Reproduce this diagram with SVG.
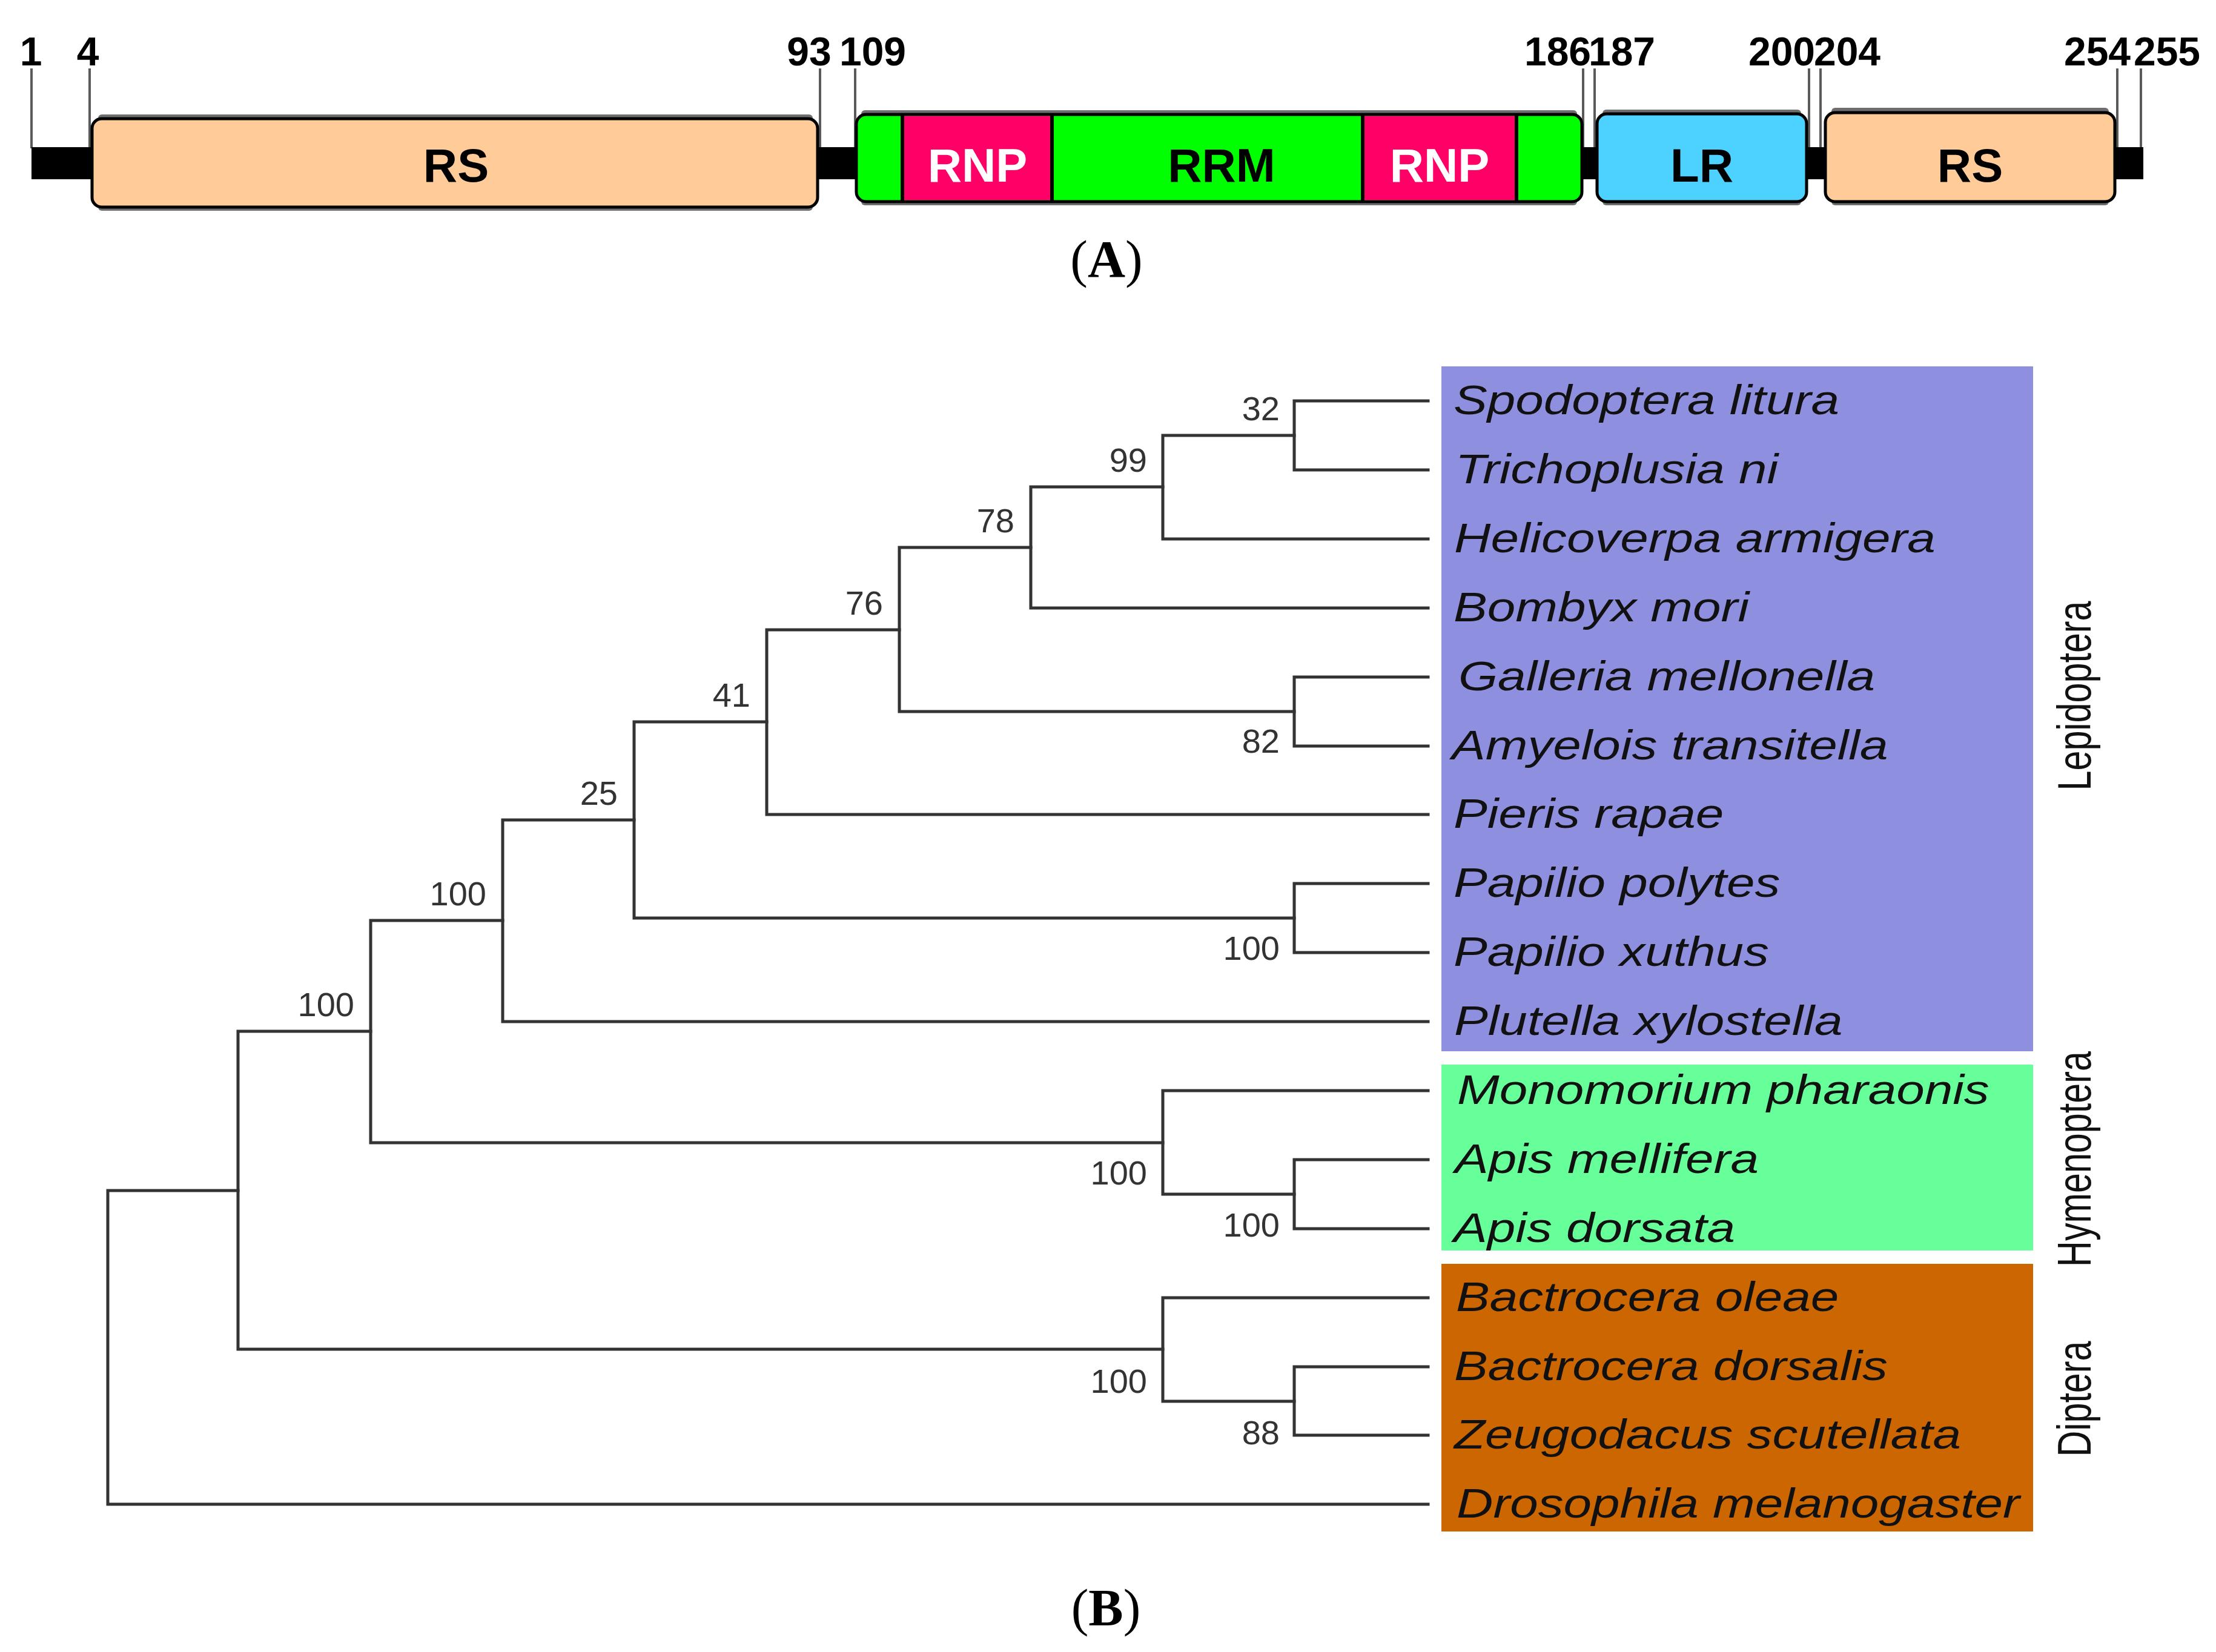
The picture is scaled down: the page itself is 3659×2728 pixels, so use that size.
<svg xmlns="http://www.w3.org/2000/svg" width="3659" height="2728" viewBox="0 0 3659 2728">
<style>
.tick{stroke:#5a5a5a;stroke-width:4;fill:none}
.shadow{fill:#6e6e6e}
.dom{stroke:#000;stroke-width:5}
.sep{stroke:#000;stroke-width:6}
.num{font-family:"Liberation Sans",Arial,sans-serif;font-weight:bold;font-size:66px;fill:#000;text-anchor:middle}
.dl{font-family:"Liberation Sans",Arial,sans-serif;font-weight:bold;font-size:78px;text-anchor:middle}
.panel{font-family:"Liberation Serif","Times New Roman",serif;font-size:86px;fill:#000;text-anchor:middle}
.br{stroke:#333;stroke-width:5;fill:none;stroke-linecap:square;stroke-linejoin:miter}
.bs{font-family:"Liberation Sans",Arial,sans-serif;font-size:56px;fill:#333;text-anchor:end}
.sp{font-family:"Liberation Sans",Arial,sans-serif;font-style:italic;font-size:68px;fill:#111}
.ord{font-family:"Liberation Sans",Arial,sans-serif;font-size:77px;fill:#111;text-anchor:middle}
</style>
<rect width="3659" height="2728" fill="#fff"/>

<!-- Panel A: domain structure -->
<g id="panelA">
  <g id="ticks">
    <line class="tick" x1="52" y1="113" x2="52" y2="245"/>
    <line class="tick" x1="148" y1="113" x2="148" y2="245"/>
    <line class="tick" x1="1354" y1="113" x2="1354" y2="245"/>
    <line class="tick" x1="1412" y1="113" x2="1412" y2="245"/>
    <line class="tick" x1="2614" y1="113" x2="2614" y2="245"/>
    <line class="tick" x1="2633" y1="113" x2="2633" y2="245"/>
    <line class="tick" x1="2987" y1="113" x2="2987" y2="245"/>
    <line class="tick" x1="3006" y1="113" x2="3006" y2="245"/>
    <line class="tick" x1="3496" y1="113" x2="3496" y2="245"/>
    <line class="tick" x1="3535" y1="113" x2="3535" y2="245"/>
  </g>
  <g id="tick-labels">
    <text class="num" x="51" y="108">1</text>
    <text class="num" x="145" y="108">4</text>
    <text class="num" x="1336" y="108">93</text>
    <text class="num" x="1441" y="108">109</text>
    <text class="num" x="2572" y="108">186</text>
    <text class="num" x="2678" y="108">187</text>
    <text class="num" x="2942" y="108">200</text>
    <text class="num" x="3050" y="108">204</text>
    <text class="num" x="3463" y="108">254</text>
    <text class="num" x="3578" y="108">255</text>
  </g>
  <rect id="backbone" x="52" y="243" width="3487" height="53" fill="#000"/>

  <g id="RS1">
    <rect class="shadow" x="162" y="189" width="1180" height="159" rx="6"/>
    <rect class="dom" x="152" y="196" width="1198" height="146" rx="16" fill="#FFCC99"/>
    <text class="dl" x="753" y="300" fill="#000">RS</text>
  </g>
  <g id="RRM">
    <rect class="shadow" x="1422" y="182" width="1182" height="157" rx="6"/>
    <rect class="dom" x="1414" y="189" width="1198" height="144" rx="16" fill="#00FF00"/>
    <rect x="1490" y="191.5" width="247" height="139" fill="#FF0066"/>
    <line class="sep" x1="1490" y1="189" x2="1490" y2="333"/>
    <line class="sep" x1="1737" y1="189" x2="1737" y2="333"/>
    <rect x="2250" y="191.5" width="254" height="139" fill="#FF0066"/>
    <line class="sep" x1="2250" y1="189" x2="2250" y2="333"/>
    <line class="sep" x1="2504" y1="189" x2="2504" y2="333"/>
    <text class="dl" x="1614" y="300" fill="#fff">RNP</text>
    <text class="dl" x="2017" y="300" fill="#000">RRM</text>
    <text class="dl" x="2377" y="300" fill="#fff">RNP</text>
  </g>
  <g id="LR">
    <rect class="shadow" x="2646" y="181" width="328" height="158" rx="6"/>
    <rect class="dom" x="2637" y="188" width="346" height="145" rx="16" fill="#4DD2FF"/>
    <text class="dl" x="2810" y="300" fill="#000">LR</text>
  </g>
  <g id="RS2">
    <rect class="shadow" x="3024" y="178" width="458" height="161" rx="6"/>
    <rect class="dom" x="3014" y="186" width="478" height="147" rx="16" fill="#FFCC99"/>
    <text class="dl" x="3253" y="300" fill="#000">RS</text>
  </g>
  <text class="panel" x="1827" y="457">(<tspan font-weight="bold">A</tspan>)</text>
</g>

<!-- Panel B: phylogenetic tree -->
<g id="clade-boxes">
  <rect id="box-lepidoptera" x="2380" y="605" width="977" height="1131" fill="#8F8FE0"/>
  <rect id="box-hymenoptera" x="2380" y="1758" width="977" height="307" fill="#66FF99"/>
  <rect id="box-diptera" x="2380" y="2087" width="977" height="442" fill="#CC6600"/>
</g>

<g id="connectors">
  <path class="br" d="M2358,662 H2137 V776 H2358"/>
  <path class="br" d="M2137,719 H1920 V890 H2358"/>
  <path class="br" d="M1920,804 H1702 V1004 H2358"/>
  <path class="br" d="M2358,1118 H2137 V1232 H2358"/>
  <path class="br" d="M1702,904 H1485 V1175 H2137"/>
  <path class="br" d="M1485,1040 H1266 V1345 H2358"/>
  <path class="br" d="M2358,1459 H2137 V1573 H2358"/>
  <path class="br" d="M1266,1192 H1047 V1516 H2137"/>
  <path class="br" d="M1047,1354 H830 V1687 H2358"/>
  <path class="br" d="M2358,1915 H2137 V2029 H2358"/>
  <path class="br" d="M2358,1801 H1920 V1972 H2137"/>
  <path class="br" d="M830,1520 H612 V1887 H1920"/>
  <path class="br" d="M2358,2257 H2137 V2370 H2358"/>
  <path class="br" d="M2358,2143 H1920 V2314 H2137"/>
  <path class="br" d="M612,1703 H393 V2228 H1920"/>
  <path class="br" d="M393,1966 H178 V2484 H2358"/>
</g>

<g id="bootstrap">
  <g id="n32"><text class="bs" x="2113" y="694">32</text></g>
  <g id="n99"><text class="bs" x="1894" y="779">99</text></g>
  <g id="n78"><text class="bs" x="1675" y="879">78</text></g>
  <g id="n76"><text class="bs" x="1458" y="1015">76</text></g>
  <g id="n41"><text class="bs" x="1239" y="1167">41</text></g>
  <g id="n25"><text class="bs" x="1020" y="1329">25</text></g>
  <g id="n100-lep"><text class="bs" x="803" y="1495">100</text></g>
  <g id="n100-lephym"><text class="bs" x="585" y="1678">100</text></g>
  <g id="n82"><text class="bs" x="2113" y="1243">82</text></g>
  <g id="n100-papilio"><text class="bs" x="2113" y="1585">100</text></g>
  <g id="n100-hym"><text class="bs" x="1894" y="1956">100</text></g>
  <g id="n100-apis"><text class="bs" x="2113" y="2042">100</text></g>
  <g id="n100-dip"><text class="bs" x="1894" y="2300">100</text></g>
  <g id="n88"><text class="bs" x="2113" y="2385">88</text></g>
</g>

<g id="leaves">
  <g id="leaf-spodoptera"><text class="sp" transform="translate(2400,684) scale(1.23,1)">Spodoptera litura</text></g>
  <g id="leaf-trichoplusia"><text class="sp" transform="translate(2403,798) scale(1.23,1)">Trichoplusia ni</text></g>
  <g id="leaf-helicoverpa"><text class="sp" transform="translate(2401,912) scale(1.23,1)">Helicoverpa armigera</text></g>
  <g id="leaf-bombyx"><text class="sp" transform="translate(2400,1026) scale(1.23,1)">Bombyx mori</text></g>
  <g id="leaf-galleria"><text class="sp" transform="translate(2408,1140) scale(1.23,1)">Galleria mellonella</text></g>
  <g id="leaf-amyelois"><text class="sp" transform="translate(2397,1254) scale(1.23,1)">Amyelois transitella</text></g>
  <g id="leaf-pieris"><text class="sp" transform="translate(2400,1367) scale(1.23,1)">Pieris rapae</text></g>
  <g id="leaf-ppolytes"><text class="sp" transform="translate(2400,1481) scale(1.23,1)">Papilio polytes</text></g>
  <g id="leaf-pxuthus"><text class="sp" transform="translate(2400,1595) scale(1.23,1)">Papilio xuthus</text></g>
  <g id="leaf-plutella"><text class="sp" transform="translate(2401,1709) scale(1.23,1)">Plutella xylostella</text></g>
  <g id="leaf-monomorium"><text class="sp" transform="translate(2406,1823) scale(1.23,1)">Monomorium pharaonis</text></g>
  <g id="leaf-amellifera"><text class="sp" transform="translate(2402,1937) scale(1.23,1)">Apis mellifera</text></g>
  <g id="leaf-adorsata"><text class="sp" transform="translate(2400,2051) scale(1.23,1)">Apis dorsata</text></g>
  <g id="leaf-boleae"><text class="sp" transform="translate(2404,2165) scale(1.23,1)">Bactrocera oleae</text></g>
  <g id="leaf-bdorsalis"><text class="sp" transform="translate(2401,2279) scale(1.23,1)">Bactrocera dorsalis</text></g>
  <g id="leaf-zeugodacus"><text class="sp" transform="translate(2401,2392) scale(1.23,1)">Zeugodacus scutellata</text></g>
  <g id="leaf-drosophila"><text class="sp" transform="translate(2405,2506) scale(1.23,1)">Drosophila melanogaster</text></g>
</g>

<g id="orders">
  <text class="ord" transform="translate(3452,1149) rotate(-90) scale(0.77,1)">Lepidoptera</text>
  <text class="ord" transform="translate(3452,1914) rotate(-90) scale(0.77,1)">Hymenoptera</text>
  <text class="ord" transform="translate(3452,2310) rotate(-90) scale(0.77,1)">Diptera</text>
</g>

<text class="panel" x="1826" y="2684">(<tspan font-weight="bold">B</tspan>)</text>
</svg>
